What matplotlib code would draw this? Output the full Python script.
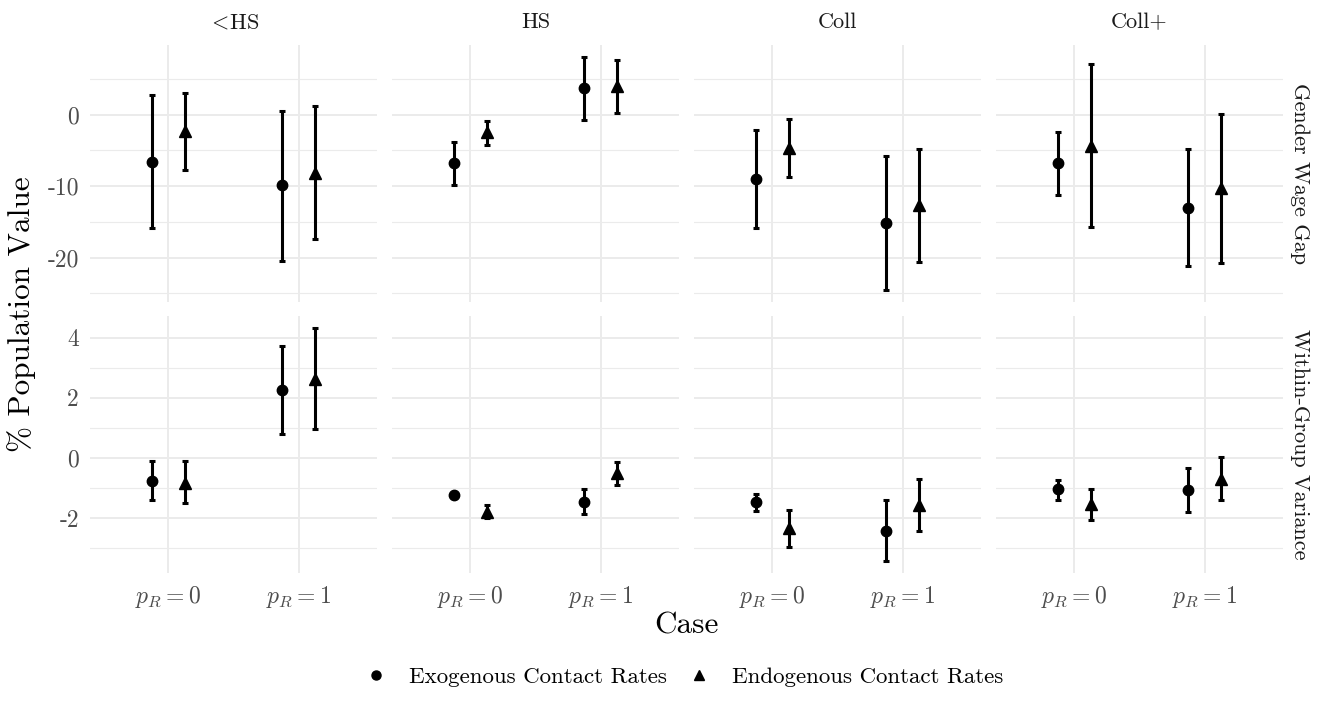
import matplotlib
matplotlib.use('Agg')
import matplotlib.pyplot as plt
from matplotlib.lines import Line2D
from matplotlib.ticker import FixedLocator, FuncFormatter
import numpy as np

plt.rcParams['font.family'] = ['cmr10', 'DejaVu Serif']
plt.rcParams['mathtext.fontset'] = 'cm'
plt.rcParams['axes.unicode_minus'] = False

education = [r'$<\!$HS', 'HS', 'Coll', 'Coll+']
cases = [r'$p_R = 0$', r'$p_R = 1$']
outcomes = ['Gender Wage Gap', 'Within-Group Variance']
models = ['Exogenous Contact Rates', 'Endogenous Contact Rates']

# rows: education group, columns: case (p_R = 0, p_R = 1)
gap_exo_est = [[-6.6, -9.9], [-6.8, 3.7], [-9.0, -15.2], [-6.8, -13.1]]
gap_exo_lo = [[-15.8, -20.5], [-9.8, -0.7], [-15.9, -24.5], [-11.2, -21.2]]
gap_exo_hi = [[2.7, 0.55], [-3.8, 8.1], [-2.1, -5.8], [-2.4, -4.8]]
gap_endo_est = [[-2.3, -8.1], [-2.5, 4.0], [-4.6, -12.6], [-4.4, -10.3]]
gap_endo_lo = [[-7.7, -17.4], [-4.2, 0.25], [-8.75, -20.6], [-15.7, -20.7]]
gap_endo_hi = [[3.0, 1.2], [-0.9, 7.7], [-0.6, -4.8], [7.1, 0.1]]

var_exo_est = [[-0.77, 2.25], [-1.23, -1.45], [-1.46, -2.42], [-1.04, -1.07]]
var_exo_lo = [[-1.4, 0.79], [-1.31, -1.87], [-1.76, -3.43], [-1.38, -1.78]]
var_exo_hi = [[-0.11, 3.74], [-1.15, -1.02], [-1.19, -1.39], [-0.72, -0.33]]
var_endo_est = [[-0.82, 2.62], [-1.78, -0.49], [-2.33, -1.56], [-1.52, -0.68]]
var_endo_lo = [[-1.5, 0.96], [-2.0, -0.91], [-2.94, -2.42], [-2.04, -1.4]]
var_endo_hi = [[-0.11, 4.32], [-1.56, -0.13], [-1.74, -0.71], [-1.04, 0.05]]

rows = [
    [(gap_exo_est, gap_exo_lo, gap_exo_hi), (gap_endo_est, gap_endo_lo, gap_endo_hi)],
    [(var_exo_est, var_exo_lo, var_exo_hi), (var_endo_est, var_endo_lo, var_endo_hi)],
]
major_ticks = [[-20, -10, 0], [-2, 0, 2, 4]]
minor_ticks = [[-25, -15, -5, 5], [-3, -1, 1, 3]]
markers = ['o', '^']
msizes = [7.5, 8.5]
dodge = [-0.125, 0.125]

fig, axes = plt.subplots(2, 4, figsize=(13.28, 7.19), dpi=100, sharex=True, sharey='row')
fig.subplots_adjust(left=90 / 1328, right=1283 / 1328, top=1 - 45 / 719,
                    bottom=1 - 573 / 719, wspace=0.052, hspace=0.058)

x = np.arange(1, len(cases) + 1)
for r in range(2):
    lo_all = np.min([np.min(s[1]) for s in rows[r]])
    hi_all = np.max([np.max(s[2]) for s in rows[r]])
    pad = (hi_all - lo_all) * 0.05
    for c in range(4):
        ax = axes[r, c]
        for m in range(2):
            est, lo, hi = (np.array(a)[c] for a in rows[r][m])
            xx = x + dodge[m]
            ax.errorbar(xx, est, yerr=[est - lo, hi - est], fmt='none', ecolor='black',
                        elinewidth=2.2, capsize=2.3, capthick=2.2, zorder=3)
            ax.plot(xx, est, linestyle='none', marker=markers[m], color='black',
                    markersize=msizes[m], zorder=4)
        ax.set_xlim(0.4, 2.6)
        ax.set_ylim(lo_all - pad, hi_all + pad)
        ax.yaxis.set_major_locator(FixedLocator(major_ticks[r]))
        ax.yaxis.set_minor_locator(FixedLocator(minor_ticks[r]))
        ax.yaxis.set_major_formatter(FuncFormatter(lambda v, p: f'{v:g}'))
        ax.set_xticks(x)
        ax.set_xticklabels(cases)
        ax.grid(which='major', color='#EBEBEB', linewidth=1.4, zorder=0)
        ax.grid(which='minor', axis='y', color='#EBEBEB', linewidth=0.8, zorder=0)
        ax.set_axisbelow(True)
        for s in ax.spines.values():
            s.set_visible(False)
        ax.tick_params(which='both', length=0, labelsize=17, labelcolor='#4D4D4D')
        ax.tick_params(axis='y', pad=8)
        ax.tick_params(axis='x', pad=8)
        if r == 0:
            ax.set_title(education[c], fontsize=16, color='#1A1A1A', pad=12)
        if c == 3:
            ax.text(1.06, 0.5, outcomes[r], transform=ax.transAxes, rotation=-90,
                    ha='center', va='center', fontsize=16, color='#1A1A1A')

fig.text(22 / 1328, 1 - 314 / 719, '% Population Value', rotation=90,
         ha='center', va='center', fontsize=22.5)
fig.text(686 / 1328, 1 - 626 / 719, 'Case', ha='center', va='center', fontsize=22.5)

handles = [Line2D([], [], linestyle='none', marker=markers[m], color='black',
                  markersize=msizes[m] - 1) for m in range(2)]
fig.legend(handles, models, loc='center', bbox_to_anchor=(0.5 + 20 / 1328, 1 - 677 / 719),
           ncol=2, frameon=False, fontsize=16.5, handlelength=1.0, handletextpad=0.95,
           columnspacing=0.9)

fig.savefig('out.png', dpi=100)
